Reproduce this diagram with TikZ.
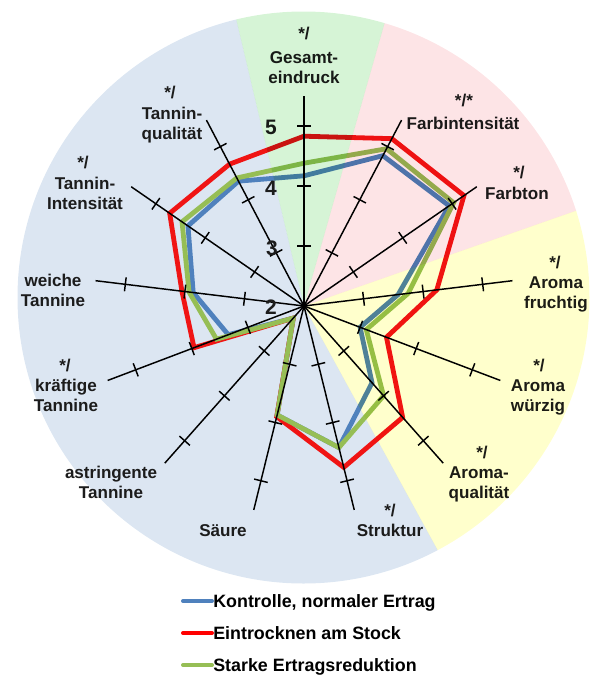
\documentclass[tikz,border=0pt]{standalone}
\usepackage{fontspec}
\setmainfont{Liberation Sans}
\definecolor{cBlue}{RGB}{79,129,189}
\definecolor{cRed}{RGB}{240,20,20}
\definecolor{cGreen}{RGB}{150,190,85}
\definecolor{bgBlue}{RGB}{220,230,242}
\definecolor{bgGreen}{RGB}{214,244,214}
\definecolor{bgPink}{RGB}{253,228,230}
\definecolor{bgYellow}{RGB}{255,255,204}
\definecolor{txt}{RGB}{28,28,28}
\tikzset{
  axisline/.style={line width=1.1pt, black},
  serie/.style={line width=3.6pt, line join=miter},
  lbl/.style={font=\bfseries\fontsize{12.8}{15}\selectfont, align=center, inner sep=0pt, anchor=north, text=txt},
  starlbl/.style={font=\bfseries\fontsize{12.8}{15}\selectfont, inner sep=0pt, text=txt},
  numlbl/.style={font=\bfseries\fontsize{15.7}{18}\selectfont, inner sep=0pt, text=txt},
  legtext/.style={font=\bfseries\fontsize{13.4}{16}\selectfont, inner sep=0pt, anchor=base west, text=black},
  legline/.style={line width=3pt, line cap=round},
}
\begin{document}
\begin{tikzpicture}[x=0.75pt,y=-0.75pt]
\useasboundingbox (0,0) rectangle (592,675);
\coordinate (O) at (304,306);
% blue background wedge
\begin{scope}
  \clip (303.5,297.5) circle[radius=214.5pt];
  \begin{scope}[shift={(O)}]
    \fill[bgBlue] (0,0) -- (61.3:420) -- (90:420) -- (120:420) -- (150:420) -- (180:420) -- (210:420) -- (240:420) -- (256.7:420) -- cycle;
  \end{scope}
\end{scope}
% data coordinates and axes
\begin{scope}[shift={(O)}]
  \foreach \v [count=\i from 0] in {4.17,4.83,4.94,3.58,3.00,3.71,4.43,3.87,2.27,3.35,3.86,4.35,4.35}
    {\coordinate (b\i) at ({\i*360/13-90}:{(\v-2)*60});}
  \foreach \v [count=\i from 0] in {4.83,5.15,5.24,4.23,3.47,4.48,4.77,3.90,2.27,3.96,4.05,4.72,4.67}
    {\coordinate (r\i) at ({\i*360/13-90}:{(\v-2)*60});}
  \foreach \v [count=\i from 0] in {4.38,4.96,5.03,3.75,3.11,4.00,4.43,3.87,2.27,3.56,3.93,4.47,4.41}
    {\coordinate (g\i) at ({\i*360/13-90}:{(\v-2)*60});}
  \foreach \k in {0,...,12}
    {\coordinate (ax\k) at ({\k*360/13-90}:210);}
\end{scope}
% series
\draw[serie,cBlue] (b0) \foreach \i in {1,...,12}{ -- (b\i)} -- cycle;
\draw[serie,cRed] (r0) \foreach \i in {1,...,12}{ -- (r\i)} -- cycle;
\draw[serie,cGreen] (g0) \foreach \i in {1,...,12}{ -- (g\i)} -- cycle;
% axes with ticks
\foreach \k in {0,...,12}{
  \draw[axisline] (O) -- (ax\k);
}
\begin{scope}[shift={(O)}]
  \foreach \k in {0,...,12}{
    \pgfmathsetmacro{\a}{\k*360/13-90}
    \foreach \t in {1,2,3}{
      \draw[axisline] (\a:{\t*60}) ++({\a+90}:7) -- ++({\a-90}:14);
    }
  }
\end{scope}
\fill[black] (O) circle[radius=2pt];
% scale numbers
\node[numlbl] (n2) at (271,307) {2};
\node[numlbl] (n3) at (272,248) {3};
\node[numlbl] (n4) at (271,188) {4};
\node[numlbl] (n5) at (271,127) {5};
% labels
\node[starlbl] (s0) at (304,33) {*/};
\node[lbl] (l0) at (304,51) {Gesamt-\\eindruck};
\node[starlbl] (s1) at (464,100) {*/*};
\node[lbl] (l1) at (463,117) {Farbintensität};
\node[starlbl] (s2) at (519,172) {*/};
\node[lbl] (l2) at (517,187) {Farbton};
\node[starlbl] (s3) at (555,262) {*/};
\node[lbl] (l3) at (556,276) {Aroma\\fruchtig};
\node[starlbl] (s4) at (539,365) {*/};
\node[lbl] (l4) at (538,379) {Aroma\\würzig};
\node[starlbl] (s5) at (482,452) {*/};
\node[lbl] (l5) at (479,466) {Aroma-\\qualität};
\node[starlbl] (s6) at (390,510) {*/};
\node[lbl] (l6) at (390,524) {Struktur};
\node[lbl] (l7) at (223,524) {Säure};
\node[lbl] (l8) at (111,466) {astringente\\Tannine};
\node[starlbl] (s9) at (65,365) {*/};
\node[lbl] (l9) at (66,379) {kräftige\\Tannine};
\node[lbl] (l10) at (53,274) {weiche\\Tannine};
\node[starlbl] (s11) at (83,162) {*/};
\node[lbl] (l11) at (85,177) {Tannin-\\Intensität};
\node[starlbl] (s12) at (170,92) {*/};
\node[lbl] (l12) at (172,107) {Tannin-\\qualität};
% coloured overlay wedges
\begin{scope}
  \clip (303.5,297.5) circle[radius=214.5pt];
  \begin{scope}[shift={(O)}, blend mode=multiply]
    \fill[bgGreen] (0,0) -- (-103.3:420) -- (-90:420) -- (-74.1:420) -- cycle;
    \fill[bgPink] (0,0) -- (-74.1:420) -- (-46:420) -- (-19.3:420) -- cycle;
    \fill[bgYellow] (0,0) -- (-19.3:420) -- (10:420) -- (35:420) -- (61.3:420) -- cycle;
  \end{scope}
\end{scope}
% legend
\coordinate (la1) at (183,601); \coordinate (lb1) at (212,601);
\coordinate (la2) at (183,633); \coordinate (lb2) at (212,633);
\coordinate (la3) at (183,665); \coordinate (lb3) at (212,665);
\draw[legline,cBlue] (la1) -- (lb1);
\draw[legline,red] (la2) -- (lb2);
\draw[legline,cGreen] (la3) -- (lb3);
\node[legtext] (t1) at (213,607.5) {Kontrolle, normaler Ertrag};
\node[legtext] (t2) at (213,639.5) {Eintrocknen am Stock};
\node[legtext] (t3) at (213,671.2) {Starke Ertragsreduktion};
\end{tikzpicture}
\end{document}
